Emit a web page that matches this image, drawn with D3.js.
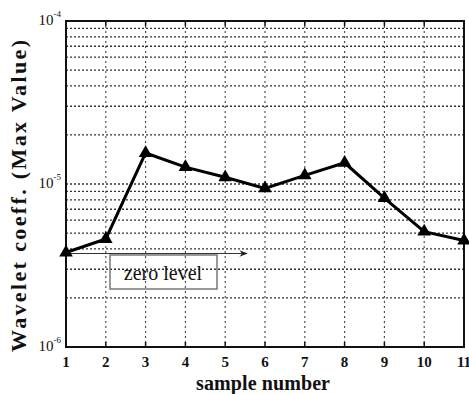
<!DOCTYPE html>
<html>
<head>
<meta charset="utf-8">
<script src="https://cdn.jsdelivr.net/npm/d3@7"></script>
<style>
  body { margin: 0; background: #fff; }
  svg { display: block; }
  text { font-family: "Liberation Serif", "Times New Roman", Times, serif; fill: #111; }
</style>
</head>
<body>
<div class="chart"></div>
<script>
// sample numbers and max wavelet coefficients
var samples = [1, 2, 3, 4, 5, 6, 7, 8, 9, 10, 11];
var coeffs = [3.8e-6, 4.6e-6, 1.55e-5, 1.27e-5, 1.1e-5, 9.4e-6, 1.13e-5, 1.35e-5, 8.2e-6, 5.1e-6, 4.5e-6];
var yDecades = [-6, -5, -4];
var zeroLevel = 3.8e-6;

var width = 469, height = 394;
var mLeft = 66, mRight = 464, mTop = 21, mBottom = 347;

var svg = d3.select(".chart").append("svg")
  .attr("width", width)
  .attr("height", height);

var x = d3.scaleLinear().domain([1, 11]).range([mLeft, mRight]);
var y = d3.scaleLog().domain([1e-6, 1e-4]).range([mBottom, mTop]);

// grid lines (log minor + decades)
var gridVals = [];
[1e-6, 1e-5].forEach(function (d) {
  for (var k = 1; k < 10; k++) gridVals.push(d * k);
});

var grid = svg.append("g");
grid.selectAll(".hg")
  .data(gridVals.filter(function (v) { return v > 1e-6; }))
  .enter().append("line")
  .attr("x1", mLeft).attr("x2", mRight)
  .attr("y1", function (d) { return y(d); })
  .attr("y2", function (d) { return y(d); })
  .attr("stroke", "#333")
  .attr("stroke-width", 1.3)
  .attr("stroke-dasharray", "2,2");

grid.selectAll(".vg")
  .data(samples.slice(1, -1))
  .enter().append("line")
  .attr("y1", mTop).attr("y2", mBottom)
  .attr("x1", function (d) { return x(d); })
  .attr("x2", function (d) { return x(d); })
  .attr("stroke", "#444")
  .attr("stroke-width", 1.1)
  .attr("stroke-dasharray", "2,3");

// tick marks top and bottom
var ticks = svg.append("g");
samples.forEach(function (s) {
  ticks.append("line")
    .attr("x1", x(s)).attr("x2", x(s))
    .attr("y1", mBottom).attr("y2", mBottom - 5)
    .attr("stroke", "#111").attr("stroke-width", 1.5);
  ticks.append("line")
    .attr("x1", x(s)).attr("x2", x(s))
    .attr("y1", mTop).attr("y2", mTop + 5)
    .attr("stroke", "#111").attr("stroke-width", 1.5);
});

// frame
svg.append("rect")
  .attr("x", mLeft).attr("y", mTop)
  .attr("width", mRight - mLeft).attr("height", mBottom - mTop)
  .attr("fill", "none")
  .attr("stroke", "#111")
  .attr("stroke-width", 2);

// x tick labels
svg.append("g").selectAll("text")
  .data(samples)
  .enter().append("text")
  .attr("x", function (d) { return x(d); })
  .attr("y", mBottom + 20)
  .attr("text-anchor", "middle")
  .attr("font-size", 15)
  .attr("font-weight", "bold")
  .text(function (d) { return d; });

// y tick labels
var yl = svg.append("g").selectAll("text")
  .data(yDecades)
  .enter().append("text")
  .attr("x", mLeft - 5)
  .attr("y", function (d) { return y(Math.pow(10, d)) + 4; })
  .attr("text-anchor", "end")
  .attr("font-size", 15);
yl.append("tspan").text("10");
yl.append("tspan")
  .attr("dy", -8)
  .attr("font-size", 9)
  .text(function (d) { return d; });

// zero level arrow + box
svg.append("defs").append("marker")
  .attr("id", "arr")
  .attr("viewBox", "0 0 10 10")
  .attr("refX", 9).attr("refY", 5)
  .attr("markerWidth", 9).attr("markerHeight", 7)
  .attr("orient", "auto")
  .append("path")
  .attr("d", "M0,1 L10,5 L0,9 L3,5 Z")
  .attr("fill", "#222");

svg.append("line")
  .attr("x1", mLeft).attr("x2", 247)
  .attr("y1", y(zeroLevel) + 1).attr("y2", y(zeroLevel) + 1)
  .attr("stroke", "#333")
  .attr("stroke-width", 1.2)
  .attr("marker-end", "url(#arr)");

svg.append("rect")
  .attr("x", 110).attr("y", 255)
  .attr("width", 107).attr("height", 34)
  .attr("fill", "none")
  .attr("stroke", "#777")
  .attr("stroke-width", 1.5);

svg.append("text")
  .attr("x", 163).attr("y", 280)
  .attr("text-anchor", "middle")
  .attr("font-size", 20)
  .text("zero level");

// data line
var line = d3.line()
  .x(function (d, i) { return x(samples[i]); })
  .y(function (d) { return y(d); });

svg.append("path")
  .datum(coeffs)
  .attr("d", line)
  .attr("fill", "none")
  .attr("stroke", "#000")
  .attr("stroke-width", 3);

svg.append("g").selectAll("path")
  .data(coeffs)
  .enter().append("path")
  .attr("transform", function (d, i) {
    return "translate(" + x(samples[i]) + "," + y(d) + ")";
  })
  .attr("d", d3.symbol().type(d3.symbolTriangle).size(80))
  .attr("fill", "#000");

// axis titles
svg.append("text")
  .attr("x", 263).attr("y", 390)
  .attr("text-anchor", "middle")
  .attr("font-size", 20)
  .attr("font-weight", "bold")
  .attr("textLength", 134)
  .attr("lengthAdjust", "spacing")
  .text("sample number");

svg.append("text")
  .attr("transform", "translate(26," + 196 + ") rotate(-90)")
  .attr("text-anchor", "middle")
  .attr("font-size", 22)
  .attr("font-weight", "bold")
  .attr("textLength", 312)
  .attr("lengthAdjust", "spacing")
  .text("Wavelet coeff. (Max Value)");
</script>
</body>
</html>
